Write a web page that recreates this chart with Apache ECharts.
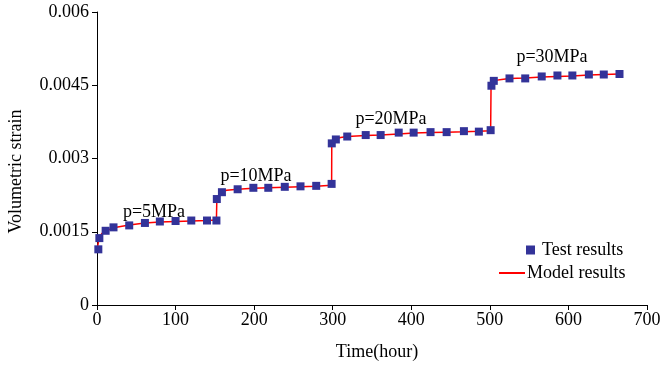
<!DOCTYPE html>
<html>
<head>
<meta charset="utf-8">
<script src="https://cdn.jsdelivr.net/npm/echarts@6/dist/echarts.min.js"></script>
<style>html,body{margin:0;padding:0;background:#fff}#c{width:663px;height:365px}</style>
</head>
<body>
<div id="c"></div>
<script>
const testTime = [1.7, 3, 11, 21, 41, 61, 80, 100, 120, 140, 152, 152.5, 159, 179, 199, 218, 239, 259, 279, 298.6, 298.8, 304, 318.5, 342, 361, 384, 403, 424.5, 445, 467, 486, 501, 502, 505, 525, 545, 566, 586, 605, 626, 645, 665];
const testStrain = [0.00114, 0.00137, 0.00152, 0.00159, 0.00163, 0.00168, 0.00171, 0.00172, 0.00173, 0.00173, 0.00173, 0.00217, 0.00231, 0.00237, 0.0024, 0.0024, 0.00242, 0.00243, 0.00244, 0.00248, 0.00331, 0.00339, 0.00345, 0.00348, 0.00348, 0.00353, 0.00353, 0.00354, 0.00354, 0.00356, 0.00355, 0.00358, 0.00449, 0.00459, 0.00464, 0.00464, 0.00468, 0.0047, 0.0047, 0.00472, 0.00472, 0.00473];
const modelTime = [0, 1.7, 3, 6, 11, 21, 41, 61, 80, 100, 120, 140, 152, 152.5, 155, 159, 165, 179, 199, 218, 239, 259, 279, 298.6, 298.8, 301, 304, 310, 318.5, 342, 361, 384, 403, 424.5, 445, 467, 486, 501, 501.5, 503, 507, 515, 525, 545, 566, 586, 605, 626, 645, 665];
const modelStrain = [0.00112, 0.00128, 0.00137, 0.00146, 0.00152, 0.00158, 0.00164, 0.00168, 0.0017, 0.00171, 0.00172, 0.00173, 0.00174, 0.00215, 0.00226, 0.00232, 0.00235, 0.00237, 0.00239, 0.0024, 0.00241, 0.00242, 0.00243, 0.00245, 0.0033, 0.00336, 0.0034, 0.00343, 0.00345, 0.00347, 0.00348, 0.0035, 0.00352, 0.00353, 0.00354, 0.00355, 0.00356, 0.00357, 0.00447, 0.00455, 0.0046, 0.00462, 0.00464, 0.00465, 0.00467, 0.00468, 0.00469, 0.00471, 0.00472, 0.00473];
const xTicks = [0, 100, 200, 300, 400, 500, 600, 700];
const yTicks = [0, 0.0015, 0.003, 0.0045, 0.006];
const seriesNames = ['Test results', 'Model results'];
const annotations = ['p=5MPa', 'p=10MPa', 'p=20MPa', 'p=30MPa'];

const font = 'Liberation Serif';
const fs = 18;
const chart = echarts.init(document.getElementById('c'), null, {renderer: 'canvas'});
const annPos = [[154, 212], [256, 176], [391, 119], [552, 57]];
chart.setOption({
  animation: false,
  backgroundColor: '#fff',
  grid: {left: 97, right: 16, top: 12, bottom: 60, containLabel: false, outerBoundsMode: 'none'},
  xAxis: {
    type: 'value', min: xTicks[0], max: xTicks[xTicks.length - 1], interval: 100,
    name: 'Time(hour)', nameLocation: 'middle', nameGap: 38,
    nameTextStyle: {fontFamily: font, fontSize: fs, color: '#000', padding: [0, 0, 0, 10]},
    axisLine: {lineStyle: {color: '#000', width: 1}},
    axisTick: {show: true, length: 5, inside: false, lineStyle: {color: '#000'}},
    axisLabel: {fontFamily: font, fontSize: fs, color: '#000', margin: 6},
    splitLine: {show: false}
  },
  yAxis: {
    type: 'value', min: yTicks[0], max: yTicks[yTicks.length - 1], interval: 0.0015,
    name: 'Volumetric strain', nameLocation: 'middle', nameGap: 72, nameRotate: 90,
    nameTextStyle: {fontFamily: font, fontSize: fs, color: '#000', padding: [0, 26, 0, 0]},
    axisLine: {show: true, lineStyle: {color: '#000', width: 1}},
    axisTick: {show: true, length: 5, lineStyle: {color: '#000'}},
    axisLabel: {fontFamily: font, fontSize: fs, color: '#000', margin: 8,
      formatter: v => String(Number(v.toPrecision(6)))},
    splitLine: {show: false}
  },
  legend: [
    {data: [{name: seriesNames[0], icon: 'rect'}], left: 521, top: 236, orient: 'vertical',
     itemWidth: 9, itemHeight: 9, itemGap: 0,
     textStyle: {fontFamily: font, fontSize: fs, color: '#000', padding: [0, 0, 0, 2]}},
    {data: [{name: seriesNames[1], icon: 'rect'}], left: 494, top: 259, orient: 'vertical',
     itemWidth: 26, itemHeight: 2, itemGap: 0,
     itemStyle: {color: '#ff0000'},
     textStyle: {fontFamily: font, fontSize: fs, color: '#000', padding: [0, 0, 0, -3]}}
  ],
  graphic: annotations.map((t, i) => ({
    type: 'text', x: annPos[i][0], y: annPos[i][1],
    style: {text: t, font: fs + 'px "' + font + '"', fill: '#000', textAlign: 'center', textVerticalAlign: 'middle'}
  })),
  series: [
    {
      name: seriesNames[1], type: 'line', z: 2,
      data: modelTime.map((t, i) => [t, modelStrain[i]]),
      showSymbol: false, symbol: 'none',
      lineStyle: {color: '#ff0000', width: 1.5},
      itemStyle: {color: '#ff0000'}
    },
    {
      name: seriesNames[0], type: 'scatter', z: 3,
      data: testTime.map((t, i) => [t, testStrain[i]]),
      symbol: 'rect', symbolSize: 8,
      itemStyle: {color: '#333399', opacity: 1}
    }
  ]
});
</script>
</body>
</html>
